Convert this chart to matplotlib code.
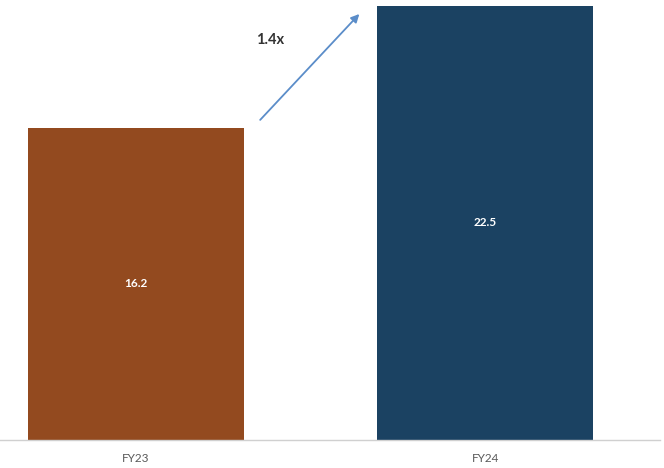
import matplotlib
matplotlib.use("Agg")
import matplotlib.pyplot as plt

# Data
years = ["FY23", "FY24"]
values = [16.2, 22.5]
colors = ["#934a1f", "#1b4262"]
growth_label = "1.4x"

plt.rcParams["font.family"] = ["Lato", "DejaVu Sans"]

fig = plt.figure(figsize=(6.64, 4.68), dpi=100)
ax = fig.add_axes([0, 28 / 468, 660 / 664, 440 / 468])

x = list(range(len(years)))
bars = ax.bar(x, values, width=0.62, color=colors)

for rect, v in zip(bars, values):
    ax.text(rect.get_x() + rect.get_width() / 2, v / 2, f"{v:.1f}",
            ha="center", va="center", color="white", fontsize=8.5, fontweight="bold")

ax.set_xlim(-0.39, 1.501)
ax.set_ylim(0, 22.5 * 440 / 434)

# growth arrow between the bars
ax.annotate("", xy=(0.645, 22.19), xytext=(0.35, 16.49),
            arrowprops=dict(arrowstyle="-|>", color="#5b8dc9", lw=1.3, mutation_scale=12))
ax.text(0.384, 20.74, growth_label, ha="center", va="center",
        fontsize=10.5, fontweight="bold", color="#333333")

ax.set_xticks(x, years)
ax.tick_params(axis="x", length=0, pad=9, labelsize=8.5, labelcolor="#595959")
ax.set_yticks([])
for side in ["top", "left", "right"]:
    ax.spines[side].set_visible(False)
ax.spines["bottom"].set_color("#d0d0d0")
ax.spines["bottom"].set_linewidth(1.0)

fig.savefig("out.png", dpi=100)
